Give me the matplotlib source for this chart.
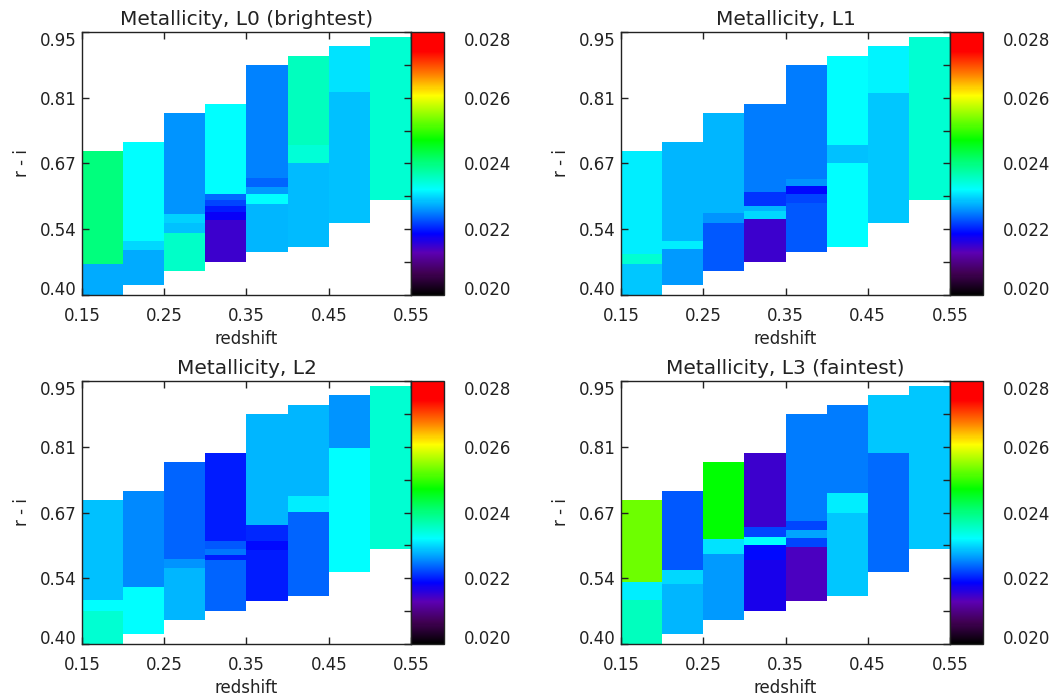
import numpy as np
import matplotlib
matplotlib.use('Agg')
import matplotlib.pyplot as plt
from matplotlib.colors import LinearSegmentedColormap, Normalize
from matplotlib.cm import ScalarMappable
from matplotlib.ticker import FixedLocator, MultipleLocator

# redshift bins
z_edges = [0.15, 0.20, 0.25, 0.30, 0.35, 0.40, 0.45, 0.50, 0.55]

# r-i bin edges (bottom -> top) and metallicity per cell, one list per redshift bin
L0_edges = [[0.400, 0.464, 0.701],
            [0.420, 0.494, 0.513, 0.720],
            [0.450, 0.530, 0.551, 0.569, 0.781],
            [0.468, 0.557, 0.573, 0.586, 0.598, 0.611, 0.800],
            [0.489, 0.590, 0.611, 0.625, 0.645, 0.882],
            [0.500, 0.676, 0.713, 0.900],
            [0.551, 0.825, 0.921],
            [0.598, 0.940]]
L0_vals = [[0.02275, 0.0240],
           [0.02275, 0.0230, 0.0232],
           [0.02355, 0.02287, 0.02296, 0.0226],
           [0.0215, 0.0218, 0.0220, 0.0222, 0.0224, 0.0232],
           [0.0228, 0.0232, 0.02265, 0.02235, 0.02253],
           [0.02284, 0.02345, 0.0236],
           [0.02287, 0.02305],
           [0.0235]]

L1_edges = [[0.400, 0.464, 0.485, 0.701],
            [0.420, 0.496, 0.513, 0.720],
            [0.450, 0.551, 0.571, 0.781],
            [0.468, 0.559, 0.575, 0.586, 0.615, 0.800],
            [0.489, 0.592, 0.611, 0.628, 0.643, 0.882],
            [0.500, 0.676, 0.714, 0.900],
            [0.551, 0.823, 0.921],
            [0.598, 0.940]]
L1_vals = [[0.0229, 0.0235, 0.0231],
           [0.02265, 0.0231, 0.0228],
           [0.0223, 0.0226, 0.0228],
           [0.0215, 0.02298, 0.0228, 0.0221, 0.0225],
           [0.0223, 0.0222, 0.0219, 0.0226, 0.0225],
           [0.0232, 0.02287, 0.0232],
           [0.0229, 0.02315],
           [0.0235]]

L2_edges = [[0.400, 0.468, 0.491, 0.701],
            [0.420, 0.519, 0.720],
            [0.450, 0.559, 0.578, 0.781],
            [0.468, 0.575, 0.586, 0.598, 0.615, 0.800],
            [0.489, 0.596, 0.615, 0.649, 0.882],
            [0.500, 0.676, 0.710, 0.900],
            [0.551, 0.810, 0.921],
            [0.598, 0.940]]
L2_vals = [[0.0235, 0.0232, 0.02285],
           [0.0232, 0.02256],
           [0.0228, 0.0226, 0.02235],
           [0.02235, 0.0220, 0.02245, 0.0223, 0.0220],
           [0.0220, 0.0219, 0.02205, 0.0228],
           [0.02235, 0.0231, 0.0228],
           [0.0232, 0.0226],
           [0.0235]]

L3_edges = [[0.400, 0.491, 0.529, 0.701],
            [0.420, 0.525, 0.555, 0.720],
            [0.450, 0.588, 0.619, 0.781],
            [0.468, 0.575, 0.608, 0.623, 0.644, 0.800],
            [0.489, 0.602, 0.621, 0.638, 0.657, 0.882],
            [0.500, 0.674, 0.716, 0.900],
            [0.551, 0.800, 0.921],
            [0.598, 0.940]]
L3_vals = [[0.0236, 0.0231, 0.0253],
           [0.0228, 0.0230, 0.0223],
           [0.02265, 0.02305, 0.0247],
           [0.0217, 0.0219, 0.0232, 0.0222, 0.0215],
           [0.0214, 0.0222, 0.0227, 0.0222, 0.0225],
           [0.0229, 0.0231, 0.0225],
           [0.0224, 0.0229],
           [0.0229]]

titles = ['Metallicity, L0 (brightest)', 'Metallicity, L1',
          'Metallicity, L2', 'Metallicity, L3 (faintest)']
x_ticks = [0.15, 0.25, 0.35, 0.45, 0.55]
y_ticks = [0.40, 0.5375, 0.675, 0.8125, 0.95]
y_labels = ['0.40', '0.54', '0.67', '0.81', '0.95']
cb_ticks = [0.020, 0.022, 0.024, 0.026, 0.028]

# IDL-like rainbow
cmap = LinearSegmentedColormap.from_list('idl_rainbow', [
    (0.00, (0, 0, 0)),
    (0.08, (0.25, 0, 0.32)),
    (0.16, (0.36, 0, 0.70)),
    (0.23, (0, 0, 1)),
    (0.32, (0, 0.55, 1)),
    (0.40, (0, 1, 1)),
    (0.50, (0, 1, 0.5)),
    (0.59, (0, 1, 0)),
    (0.76, (1, 1, 0)),
    (0.84, (1, 0.5, 0)),
    (0.93, (1, 0, 0)),
    (1.00, (1, 0, 0))])
norm = Normalize(vmin=0.020, vmax=0.028)

W, H = 1062, 698
fig = plt.figure(figsize=(W / 100, H / 100), dpi=100)

def px(l, t, w, h):
    return [l / W, 1 - (t + h) / H, w / W, h / H]

corners = [(82, 32), (621, 32), (82, 381), (621, 381)]
panels = [(L0_edges, L0_vals), (L1_edges, L1_vals), (L2_edges, L2_vals), (L3_edges, L3_vals)]
ink = '#222222'

for (l, t), (edges, vals), title in zip(corners, panels, titles):
    ax = fig.add_axes(px(l, t, 329, 263))
    cax = fig.add_axes(px(l + 329, t, 33, 263))

    for i in range(len(z_edges) - 1):
        X = [z_edges[i], z_edges[i + 1]]
        Y = edges[i]
        C = np.array(vals[i]).reshape(-1, 1)
        ax.pcolormesh(X, Y, C, cmap=cmap, norm=norm, shading='flat',
                      edgecolors='none', antialiased=False)

    ax.set_xlim(0.15, 0.55)
    ax.set_ylim(0.40, 0.95)
    ax.set_xticks(x_ticks)
    ax.set_xticklabels(['%.2f' % v for v in x_ticks])
    ax.yaxis.set_major_locator(FixedLocator(y_ticks))
    ax.set_yticklabels(y_labels)
    ax.tick_params(axis='x', direction='in', top=True, bottom=True, length=5,
                   width=1, labelsize=12, pad=9, colors=ink)
    ax.tick_params(axis='y', direction='in', left=True, right=False, length=5,
                   width=1, labelsize=12, pad=4, colors=ink)
    # IDL keeps the end labels inside the axis range
    yt = ax.yaxis.get_major_ticks()
    yt[0].label1.set_va('baseline')
    yt[-1].label1.set_va('top')
    for s in ax.spines.values():
        s.set_linewidth(1.0)
        s.set_color(ink)
    ax.set_xlabel('redshift', fontsize=12, labelpad=3, color=ink)
    ax.set_ylabel('r - i', fontsize=12, labelpad=6, color=ink)
    ax.set_title(title, fontsize=14.5, pad=5, color=ink)

    cb = fig.colorbar(ScalarMappable(norm=norm, cmap=cmap), cax=cax)
    cb.set_ticks(cb_ticks)
    cb.set_ticklabels(['%.3f' % v for v in cb_ticks])
    cax.yaxis.set_minor_locator(MultipleLocator(0.001))
    cax.tick_params(which='both', left=True, right=False, labelleft=False,
                    labelright=True, direction='out', length=5, width=1,
                    labelsize=12, pad=9, colors=ink)
    ct = cax.yaxis.get_major_ticks()
    ct[0].label2.set_va('baseline')
    ct[-1].label2.set_va('top')
    cb.outline.set_linewidth(1.0)
    cb.outline.set_edgecolor(ink)

fig.savefig('out.png', dpi=100)
